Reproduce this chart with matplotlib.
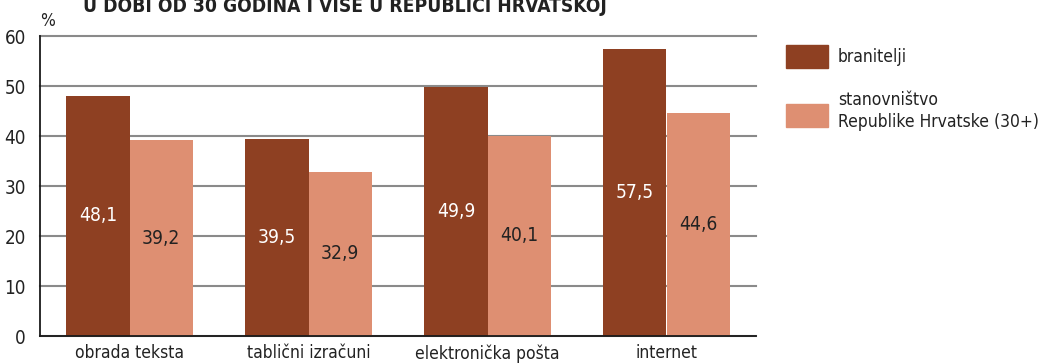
import matplotlib
matplotlib.use("Agg")
import matplotlib.pyplot as plt
import numpy as np
from matplotlib.patches import Rectangle
from matplotlib import font_manager as fm

# Share of people using each computer skill (%)
categories = ["obrada teksta", "tablični izračuni", "elektronička pošta", "internet"]
branitelji = [48.1, 39.5, 49.9, 57.5]
stanovnistvo = [39.2, 32.9, 40.1, 44.6]
series_names = ["branitelji", "stanovništvo\nRepublike Hrvatske (30+)"]
title = "U DOBI OD 30 GODINA I VIŠE U REPUBLICI HRVATSKOJ"
yticks = [0, 10, 20, 30, 40, 50, 60]


def narrow_font(bold=False):
    """Return a path to a condensed sans font if one is installed."""
    want = 700 if bold else 400
    best = None
    for f in fm.fontManager.ttflist:
        if f.style != "normal":
            continue
        narrow = ("Narrow" in f.name or "Condensed" in f.name
                  or f.stretch in ("condensed", "semi-condensed", 375)
                  or "Condensed" in f.fname or "Narrow" in f.fname)
        if not narrow or "Semi" in f.fname or "Extra" in f.fname:
            continue
        try:
            w = int(f.weight)
        except (TypeError, ValueError):
            w = {"normal": 400, "regular": 400, "bold": 700}.get(str(f.weight), 400)
        score = abs(w - want)
        if best is None or score < best[0]:
            best = (score, f.fname)
    return best[1] if best and best[0] < 150 else None


reg_path = narrow_font(False)
bold_path = narrow_font(True)


def fp(size, bold=False):
    path = bold_path if bold else reg_path
    if path:
        return fm.FontProperties(fname=path, size=size)
    return fm.FontProperties(family=["Roboto", "DejaVu Sans"], size=size * 0.92,
                             weight="bold" if bold else "normal")


DARK = "#8E4022"
LIGHT = "#DE8F72"
INK = "#222222"

W, H = 1044, 364
fig = plt.figure(figsize=(W / 100, H / 100), dpi=100)
ax = fig.add_axes([40 / W, 1 - 336 / H, (756 - 40) / W, (336 - 36) / H])

x = np.arange(len(categories))
bw = 0.352
b1 = ax.bar(x - bw / 2, branitelji, bw, color=DARK, zorder=3)
b2 = ax.bar(x + bw / 2, stanovnistvo, bw, color=LIGHT, zorder=3)


def fmt(v):
    return f"{v:.1f}".replace(".", ",")


for rect, v in zip(b1, branitelji):
    ax.text(rect.get_x() + rect.get_width() / 2, v / 2, fmt(v), ha="center",
            va="center", color="white", fontproperties=fp(13.8), zorder=4)
for rect, v in zip(b2, stanovnistvo):
    ax.text(rect.get_x() + rect.get_width() / 2, v / 2, fmt(v), ha="center",
            va="center", color=INK, fontproperties=fp(13.8), zorder=4)

ax.set_xlim(-0.5, 3.5)
ax.set_ylim(0, 60)
ax.set_yticks(yticks)
ax.set_yticklabels([str(t) for t in yticks], fontproperties=fp(13.5), color=INK)
ax.set_xticks(x)
ax.set_xticklabels(categories, fontproperties=fp(12.5), color=INK)
ax.tick_params(axis="both", length=0)
ax.tick_params(axis="y", pad=10)
ax.tick_params(axis="x", pad=6)
ax.yaxis.grid(True, color="#8a8a8a", linewidth=1.5, zorder=1)
for gl in ax.get_ygridlines():
    gl.set_clip_on(False)
ax.set_axisbelow(True)
for s in ["top", "right"]:
    ax.spines[s].set_visible(False)
for s in ["left", "bottom"]:
    ax.spines[s].set_color("#1a1a1a")
    ax.spines[s].set_linewidth(1.3)
    ax.spines[s].set_zorder(5)

# unit label above the y axis
fig.text(40 / W, 1 - 26 / H, "%", fontproperties=fp(12.5), color=INK,
         ha="left", va="baseline")

# chart title (runs off the top edge)
fig.text(83 / W, 1 - 11.5 / H, title, fontproperties=fp(13.8, bold=True),
         color=INK, ha="left", va="baseline")

# legend
for (top, bottom), col in zip([(45, 68), (104, 127)], [DARK, LIGHT]):
    fig.add_artist(Rectangle((786 / W, 1 - bottom / H), 42 / W, (bottom - top) / H,
                             transform=fig.transFigure, color=col))
ytxt = [56.5, 111]
for yy, name in zip(ytxt, series_names):
    fig.text(838 / W, 1 - yy / H, name, fontproperties=fp(12.5),
             color=INK, ha="left", va="center", linespacing=1.25)

fig.savefig("out.png", dpi=100)
